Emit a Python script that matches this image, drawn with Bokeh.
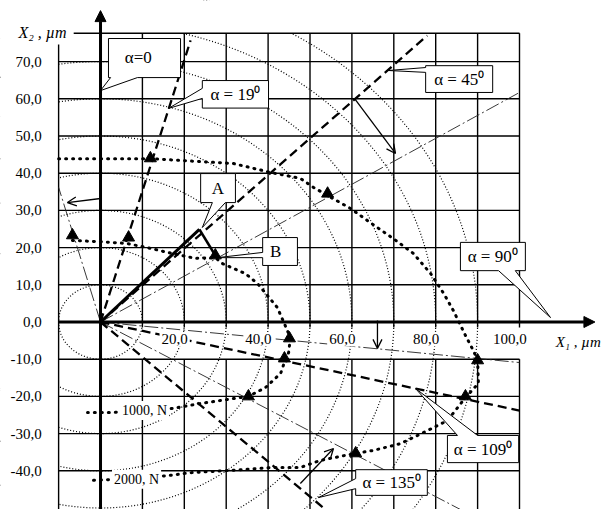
from bokeh.plotting import figure
from bokeh.models import Range1d, Arrow, NormalHead, OpenHead
from bokeh.embed import file_html
from bokeh.resources import INLINE
from bokeh.core.properties import value

# ---------------- data (µm) ----------------
# level circles of the displacement field, centred at the origin
circle_radii = [10, 20, 30, 40, 50, 60, 70, 80, 90]

# 1000 N force hodograph
f1000_x = [-6.7, -0.2, 6.4, 11.9, 17.2, 22.7, 27.4, 29.1, 34.6, 37.5, 42.2, 44.6, 45.3,
           44.9, 44.2, 43.0, 39.4, 35.3, 28.6, 23.9, 17.4, 9.5, 3.1, -3.1]
f1000_y = [21.9, 21.6, 21.1, 19.8, 18.4, 17.1, 17.3, 15.7, 13.0, 10.3, 3.9, -2.3, -4.4,
           -8.2, -9.8, -13.8, -17.6, -20.0, -21.1, -21.9, -23.2, -24.1, -24.3, -24.3]
f1000_mark_x = [-6.7, 6.7, 27.4, 45.1, 43.9, 35.3]
f1000_mark_y = [23.3, 22.7, 17.9, -4.4, -9.8, -20.0]

# 2000 N force hodograph
f2000_x = [-10.0, 11.9, 31.7, 40.6, 47.7, 50.8, 54.2, 59.7, 64.4, 69.9, 74.7, 78.8, 81.9,
           84.2, 87.1, 89.0, 90.0, 90.2, 87.1, 82.8, 78.0, 71.6, 65.2, 60.9, 52.5, 47.7,
           41.3, 31.0, 21.5, 16.0, 7.2, -2.4]
f2000_y = [43.9, 43.9, 42.6, 40.2, 38.6, 36.2, 34.0, 30.5, 26.7, 22.4, 18.4, 13.0, 7.7,
           3.1, -3.6, -7.7, -10.3, -16.5, -20.3, -26.5, -29.2, -32.7, -34.5, -35.3, -37.2,
           -39.1, -39.1, -39.9, -40.5, -41.3, -42.1, -42.6]
f2000_mark_x = [11.9, 54.2, 90.0, 87.1, 60.9]
f2000_mark_y = [44.0, 34.5, -10.3, -20.0, -35.3]

# load directions alpha (dashed rays from the origin), end points
ray_alpha = [19, 45, 109, 135]
ray_end_x = [21.5, 78.0, 100.0, 53.7]
ray_end_y = [75.7, 77.0, -23.8, -50.4]

# displacement directions (dash-dot rays from the origin), end points
dir_end_x = [100.0, -10.0, 100.0, 85.9]
dir_end_y = [61.7, 36.2, -10.9, -50.4]

# displacement O-A and its increment A-B
point_A = (23.6, 24.9)
point_B = (27.4, 17.9)

# force direction arrows: start and end
force_x0 = [0.0, 60.6, 66.1, 47.7]
force_y0 = [33.2, 60.1, 0.4, -43.4]
force_x1 = [-7.9, 70.4, 66.1, 55.6]
force_y1 = [32.1, 45.3, -7.1, -34.0]

# axes ticks
x_grid = [-10, 0, 10, 20, 30, 40, 50, 60, 70, 80, 90, 100]
y_grid = [70, 60, 50, 40, 30, 20, 10, -10, -20, -30, -40]
x_tick_vals = [20, 40, 60, 80, 100]
x_tick_text = ["20,0", "40,0", "60,0", "80,0", "100,0"]
y_tick_vals = [70, 60, 50, 40, 30, 20, 10, 0, -10, -20, -30, -40]
y_tick_text = ["70,0", "60,0", "50,0", "40,0", "30,0", "20,0", "10,0", "0,0",
               "-10,0", "-20,0", "-30,0", "-40,0"]

# ---------------- layout ----------------
X_LO, X_HI = -23.87, 119.81
Y_LO, Y_HI = -50.40, 86.42
GRID_TOP = 77.6
SERIF = value("Liberation Serif")

p = figure(width=602, height=509, x_range=Range1d(X_LO, X_HI), y_range=Range1d(Y_LO, Y_HI),
           x_axis_type=None, y_axis_type=None, toolbar_location=None,
           output_backend="svg", min_border=0)
p.outline_line_color = None
p.background_fill_color = "white"
p.border_fill_color = "white"

# level circles
p.ellipse(x=[0] * len(circle_radii), y=[0] * len(circle_radii),
          width=[2 * r for r in circle_radii], height=[2 * r for r in circle_radii],
          fill_color=None, line_color="black", line_width=1.2, line_dash="1 2")

# keep everything outside the grid box white
p.quad(left=[X_LO, X_LO], right=[-10, X_HI], bottom=[Y_LO, GRID_TOP], top=[Y_HI, Y_HI],
       fill_color="white", line_color=None)

# grid
vx0, vy0, vx1, vy1 = [], [], [], []
for gx in x_grid:
    if gx == 0:
        continue
    if gx == -10:
        vx0.append(gx); vy0.append(74.6); vx1.append(gx); vy1.append(Y_LO)
    else:
        vx0.append(gx); vy0.append(GRID_TOP); vx1.append(gx); vy1.append(-1.5)
        vx0.append(gx); vy0.append(-10); vx1.append(gx); vy1.append(Y_LO)
for gy in y_grid:
    vx0.append(-10); vy0.append(gy); vx1.append(100); vy1.append(gy)
vx0.append(-6.4); vy0.append(GRID_TOP); vx1.append(100); vy1.append(GRID_TOP)
p.segment(x0=vx0, y0=vy0, x1=vx1, y1=vy1, line_color="black", line_width=1.4)

# displacement directions
p.multi_line(xs=[[0, x] for x in dir_end_x], ys=[[0, y] for y in dir_end_y],
             line_color="#222222", line_width=0.9, line_dash="14 3 2 3")

# load direction rays
p.multi_line(xs=[[0, x] for x in ray_end_x], ys=[[0, y] for y in ray_end_y],
             line_color="black", line_width=2.3, line_dash="9 5")

# force hodographs
p.line(f1000_x, f1000_y, line_color="black", line_width=3, line_dash="1 6", line_cap="round")
p.line(f2000_x, f2000_y, line_color="black", line_width=3, line_dash="1 6", line_cap="round")
p.scatter(f1000_mark_x, f1000_mark_y, marker="triangle", size=12, color="black")
p.scatter(f2000_mark_x, f2000_mark_y, marker="triangle", size=12, color="black")

# displacement vectors
p.line([0, point_A[0]], [0, point_A[1]], line_color="black", line_width=3)
p.line([point_A[0], point_B[0]], [point_A[1], point_B[1]], line_color="black", line_width=2.6)


def callout(box, side, base, tip):
    x0, x1, y0, y1 = box
    tx, ty = tip
    b1, b2 = sorted(base)
    if side == "bottom":
        return [x0, x1, x1, b2, tx, b1, x0], [y1, y1, y0, y0, ty, y0, y0]
    if side == "top":
        return [x0, b1, tx, b2, x1, x1, x0], [y1, y1, ty, y1, y1, y0, y0]
    return [x0, x1, x1, x0, x0, tx, x0], [y1, y1, y0, y0, b1, ty, b2]


callouts = [
    ("α=0", (1.9, 19.1, 65.7, 76.2), "bottom", (2.4, 8.8), (0.0, 62.2), (9.0, 71.0)),
    ("α = 19⁰", (24.3, 40.1, 57.5, 64.9), "left", (60.1, 62.8), (16.2, 57.4), (32.2, 61.2)),
    ("α = 45⁰", (77.6, 93.6, 61.7, 68.9), "left", (67.1, 68.4), (68.7, 67.6), (85.6, 65.3)),
    ("α = 90⁰", (85.9, 101.4, 13.8, 21.4), "bottom", (95.0, 99.0), (107.4, 1.2), (93.6, 17.6)),
    ("α = 109⁰", (82.8, 99.8, -37.8, -30.5), "top", (85.2, 90.0), (75.2, -17.9), (91.3, -34.2)),
    ("α = 135⁰", (60.9, 78.0, -46.6, -39.7), "left", (-44.8, -42.1), (52.0, -47.2), (69.5, -43.1)),
    ("A", (23.9, 32.2, 32.1, 39.9), "bottom", (26.7, 29.8), (24.3, 25.4), (28.0, 36.0)),
    ("B", (38.7, 47.0, 15.2, 22.7), "left", (17.3, 18.7), (27.9, 17.3), (41.8, 19.0)),
]
cxs, cys = [], []
for _, box, side, base, tip, _ in callouts:
    xs, ys = callout(box, side, base, tip)
    cxs.append(xs); cys.append(ys)
p.patches(xs=cxs, ys=cys, fill_color="white", line_color="black", line_width=1)
p.text(x=[c[5][0] for c in callouts], y=[c[5][1] for c in callouts],
       text=[c[0] for c in callouts], text_font=SERIF, text_font_size="17px",
       text_align="center", text_baseline="middle", text_color="black")

# tick labels
p.text(x=[-14.0] * len(y_tick_vals), y=y_tick_vals, text=y_tick_text, text_font=SERIF,
       text_font_size="15px", text_align="right", text_baseline="middle", text_color="black")
p.text(x=[v - 2.3 for v in x_tick_vals], y=[-4.7] * len(x_tick_vals), text=x_tick_text,
       text_font=SERIF, text_font_size="15px", text_align="center", text_baseline="middle",
       text_color="black", background_fill_color="white", padding=2)

# hodograph labels
p.text(x=[10.5, 8.6], y=[-23.8, -42.3], text=["1000, N", "2000, N"], text_font=SERIF,
       text_font_size="14px", text_align="center", text_baseline="middle", text_color="black",
       background_fill_color="white", padding=2)

# axis titles
p.text(x=[-19.6], y=[77.8], text=["X₂ , µm"], text_font=SERIF,
       text_font_size="16px", text_font_style="italic", text_align="left",
       text_baseline="middle", text_color="black")
p.text(x=[119.4], y=[-5.5], text=["X₁ , µm"], text_font=SERIF,
       text_font_size="15px", text_font_style="italic", text_align="right",
       text_baseline="middle", text_color="black")

# axes with arrow heads
p.add_layout(Arrow(x_start=-10, y_start=0, x_end=118, y_end=0, line_width=3,
                   end=NormalHead(size=11, fill_color="black", line_color="black")))
p.add_layout(Arrow(x_start=0, y_start=Y_LO, x_end=0, y_end=83.7, line_width=3,
                   end=NormalHead(size=11, fill_color="black", line_color="black")))

# force directions
for x0, y0, x1, y1 in zip(force_x0, force_y0, force_x1, force_y1):
    p.add_layout(Arrow(x_start=x0, y_start=y0, x_end=x1, y_end=y1, line_width=1.3,
                       end=OpenHead(size=9, line_width=1.3)))

open("out.html", "w").write(file_html(p, INLINE))
